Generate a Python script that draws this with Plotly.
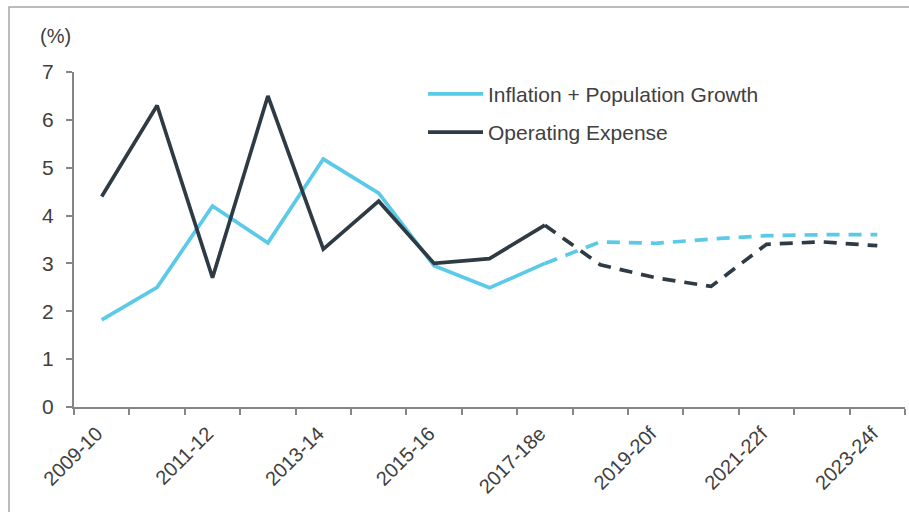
import plotly.graph_objects as go

# Financial years, actual (through 2017-18e) and forecast
years = ["2009-10", "2010-11", "2011-12", "2012-13", "2013-14", "2014-15",
         "2015-16", "2016-17", "2017-18e", "2018-19f", "2019-20f", "2020-21f",
         "2021-22f", "2022-23f", "2023-24f"]
inflation_pop = [1.82, 2.5, 4.2, 3.43, 5.18, 4.47, 2.95, 2.49, 3.0,
                 3.45, 3.42, 3.51, 3.58, 3.6, 3.6]
operating_exp = [4.4, 6.3, 2.7, 6.5, 3.3, 4.3, 3.0, 3.1, 3.8,
                 2.97, 2.7, 2.52, 3.4, 3.45, 3.37]
last_actual = years.index("2017-18e")
label_years = years[::2]

BLUE = "#5BC9E8"
DARK = "#2F3B44"
AXIS = "#868686"
TEXT = "#404040"
FONT = "Liberation Sans, Arial, sans-serif"

idx = list(range(len(years)))
fig = go.Figure()

for name, vals, color in [("Inflation + Population Growth", inflation_pop, BLUE),
                          ("Operating Expense", operating_exp, DARK)]:
    fig.add_trace(go.Scatter(
        x=idx[:last_actual + 1], y=vals[:last_actual + 1], name=name,
        mode="lines", line=dict(color=color, width=3.7),
        legendgroup=name))
    fig.add_trace(go.Scatter(
        x=idx[last_actual:], y=vals[last_actual:], name=name,
        mode="lines", line=dict(color=color, width=3.7, dash="13px,9px"),
        legendgroup=name, showlegend=False))

fig.update_layout(
    width=909, height=512,
    margin=dict(l=74, r=4, t=72, b=105),
    paper_bgcolor="white", plot_bgcolor="white",
    font=dict(family=FONT, size=21, color=TEXT),
    showlegend=True,
    legend=dict(x=0.42, y=0.995, xanchor="left", yanchor="top",
                bgcolor="rgba(0,0,0,0)", font=dict(size=21, color=TEXT),
                itemwidth=55, tracegroupgap=8),
    xaxis=dict(
        range=[-0.5, len(years) - 0.5],
        tickmode="array", tickvals=idx[::2], ticktext=label_years,
        tickangle=-45, ticks="", showgrid=False, zeroline=False,
        showline=True, linecolor=AXIS, linewidth=2,
        tickfont=dict(size=20, color=TEXT),
        ticklabelstandoff=5, ticklabelshift=-5,
        minor=dict(tickmode="linear", tick0=-0.5, dtick=1, ticks="outside",
                   ticklen=6, tickwidth=2, tickcolor=AXIS, showgrid=False),
    ),
    yaxis=dict(
        range=[0, 7], dtick=1, ticks="outside", ticklen=6, tickwidth=2,
        tickcolor=AXIS, showgrid=False, zeroline=False,
        showline=True, linecolor=AXIS, linewidth=2,
        tickfont=dict(size=21, color=TEXT), ticklabelstandoff=8,
    ),
    shapes=[dict(type="rect", xref="paper", yref="paper",
                 x0=(9 - 74) / 831, x1=1.05, y0=-0.4, y1=(407 - 7) / 335,
                 line=dict(color="#A6A6A6", width=1.5), layer="below")],
    annotations=[dict(text="(%)", xref="paper", yref="paper",
                      x=(55 - 74) / 831, y=(407 - 36) / 335,
                      xanchor="center", yanchor="middle",
                      showarrow=False, font=dict(size=20, color=TEXT))],
)

fig.write_html("out.html")
